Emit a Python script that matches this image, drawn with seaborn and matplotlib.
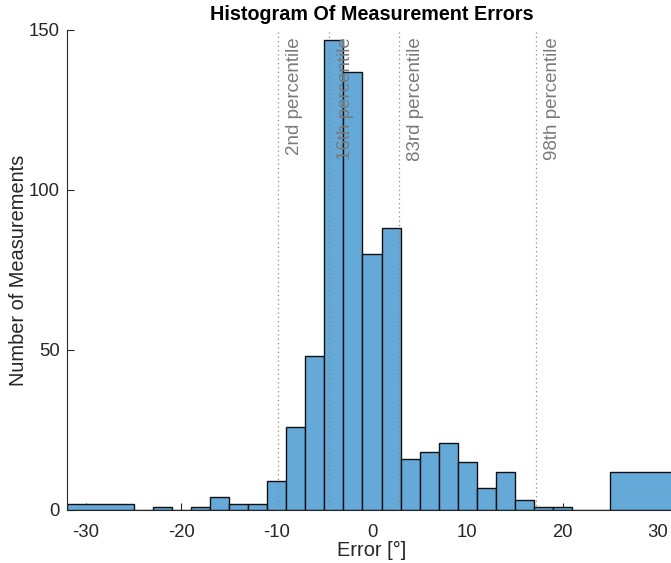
import numpy as np
import pandas as pd
import matplotlib
matplotlib.use("Agg")
import matplotlib.pyplot as plt
import matplotlib.transforms as mtransforms
import seaborn as sns

# ---- data ----
bin_edges = [-32, -25, -23, -21, -19, -17, -15, -13, -11, -9, -7, -5, -3, -1,
             1, 3, 5, 7, 9, 11, 13, 15, 17, 19, 21, 23, 25, 32]
bin_counts = [2, 0, 1, 0, 1, 4, 2, 2, 9, 26, 48, 147, 137, 80,
              88, 16, 18, 21, 15, 7, 12, 3, 1, 1, 0, 0, 12]
percentile_labels = ["2nd percentile", "16th percentile", "83rd percentile", "98th percentile"]
percentile_values = [-9.83, -4.51, 2.87, 17.2]
x_ticks = [-30, -20, -10, 0, 10, 20, 30]
y_ticks = [0, 50, 100, 150]

sns.set_theme(style="white")
plt.rcParams['font.family'] = ['Liberation Sans', 'DejaVu Sans']

W, H, DPI = 671, 563, 100
fig = plt.figure(figsize=(W / DPI, H / DPI), dpi=DPI)
ax = fig.add_axes([67 / W, (H - 510) / H, (677 - 67) / W, (510 - 30) / H])

centers = [(a + b) / 2 for a, b in zip(bin_edges[:-1], bin_edges[1:])]
df = pd.DataFrame({"center": centers, "count": bin_counts})
sns.histplot(data=df, x="center", weights="count", bins=bin_edges, ax=ax,
             color="#64a9d8", alpha=1.0, edgecolor="#111111", linewidth=1.0)

for lbl, val in zip(percentile_labels, percentile_values):
    ax.axvline(val, color="#8a8a8a", linestyle=(0, (1, 2.5)), linewidth=0.9, zorder=3)
    trans = mtransforms.offset_copy(ax.transData, fig=fig, x=8, y=0, units="dots")
    ax.text(val, 147.6, lbl, rotation=90, ha="left", va="top", transform=trans,
            color="#7a7a7a", fontsize=13.5, zorder=4)

ax.set_xlim(-32, 32)
ax.set_ylim(0, 150)
ax.set_xticks(x_ticks)
ax.set_yticks(y_ticks)
ax.set_xticklabels([str(t) for t in x_ticks])
ax.set_yticklabels([str(t) for t in y_ticks])
ax.tick_params(direction="in", length=5, width=0.8, color="#262626",
               labelcolor="#262626", labelsize=13.3, pad=5,
               bottom=True, left=True, top=False, right=False)
ax.tick_params(axis="x", pad=10)
for s in ["top", "right"]:
    ax.spines[s].set_visible(False)
for s in ["left", "bottom"]:
    ax.spines[s].set_color("#262626")
    ax.spines[s].set_linewidth(0.8)

ax.set_xlabel("Error [°]", fontsize=14.4, color="#262626", labelpad=0)
ax.set_ylabel("Number of Measurements", fontsize=14.4, color="#262626", labelpad=1)
ax.set_title("Histogram Of Measurement Errors", fontsize=14.2, fontweight="bold",
             color="black", pad=7)

fig.savefig("out.png", dpi=DPI)
